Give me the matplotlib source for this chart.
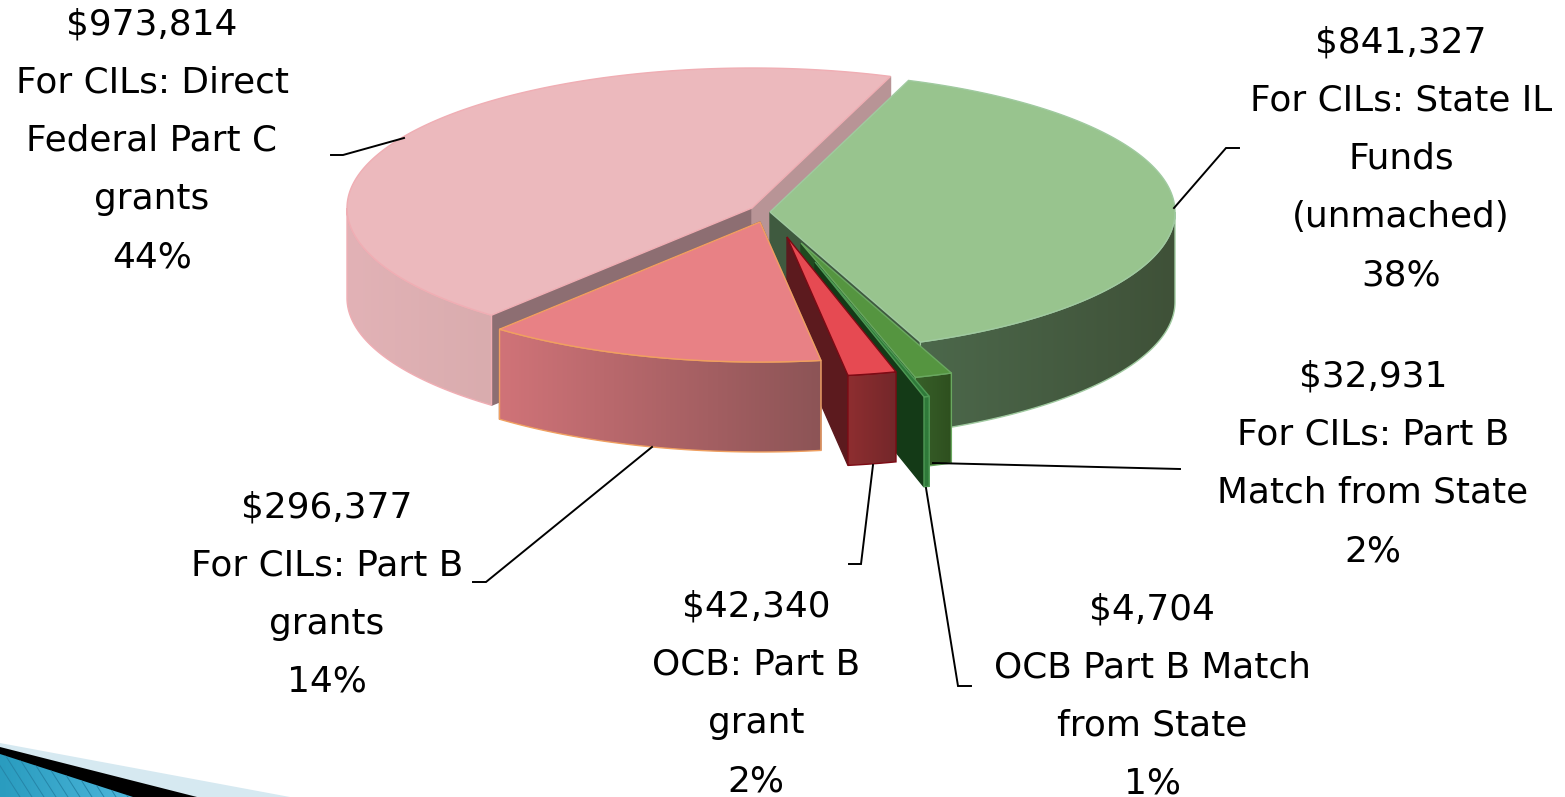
import numpy as np
import matplotlib
matplotlib.use("Agg")
import matplotlib.pyplot as plt
from matplotlib.colors import LinearSegmentedColormap
from matplotlib.patches import PathPatch, Polygon
from matplotlib.path import Path

# ---- data
names = ["For CILs: State IL\nFunds\n(unmached)", "For CILs: Part B\nMatch from State",
         "OCB Part B Match\nfrom State", "OCB: Part B\ngrant",
         "For CILs: Part B\ngrants", "For CILs: Direct\nFederal Part C\ngrants"]
amounts = [841327, 32931, 4704, 42340, 296377, 973814]
percents = ["38%", "2%", "1%", "2%", "14%", "44%"]

# ---- layout and style (pixel space of the reference)
W, H = 1565, 797
RX, RY, DEPTH = 405, 140, 90
START = 70.0
apex = [(770, 212), (801, 243), (815, 262), (787, 237), (760, 222), (752, 208)]
label_xy = [(1401, 285), (1373, 561), (1152, 794), (756, 791), (327, 692), (152, 267)]
leaders = [[(1239, 148), (1226, 148), (1174, 208)],
           [(1180, 469), (933, 463)],
           [(971, 686), (958, 686), (926, 488)],
           [(873, 465), (861, 564), (849, 564)],
           [(473, 582), (486, 582), (652, 447)],
           [(331, 155), (343, 155), (404, 138)]]
top_col = ["#98c48e", "#559540", "#2f7a3a", "#e64a52", "#e88185", "#ecb9bd"]
edge_col = ["#a0caa0", "#6aa860", "#4f9a55", "#7d0a14", "#f0a060", "#f0aeb4"]
side_stops = [["#4c684b", "#3f5138"], ["#38602a", "#2e4f1e"], ["#2f7a3a", "#2f7a3a"],
              ["#8e2e30", "#73272a"], ["#d07378", "#8c5456"], ["#e2b2b6", "#d9acae"]]
cut_col = ["#3f5a3f", "#1f4a1f", "#143a17", "#5c1a1e", "#8a5558", "#8d6e72"]

fig = plt.figure(figsize=(W / 100, H / 100), dpi=100)
ax = fig.add_axes([0, 0, 1, 1])


def rim(c, t1, t2, n=240):
    t = np.radians(np.linspace(t1, t2, n))
    return np.column_stack([c[0] + RX * np.cos(t), c[1] - RY * np.sin(t)])


def down(pts):
    return pts + np.array([0, DEPTH])


def gradient(poly, colors, z, edge):
    cmap = LinearSegmentedColormap.from_list("g", colors)
    x0, x1 = poly[:, 0].min(), poly[:, 0].max()
    y0, y1 = poly[:, 1].min(), poly[:, 1].max()
    im = ax.imshow(np.linspace(0, 1, 256)[None, :], cmap=cmap, extent=[x0, x1, y1, y0],
                   aspect="auto", zorder=z, interpolation="bilinear")
    im.set_clip_path(PathPatch(Path(poly, closed=False), transform=ax.transData))
    ax.add_patch(Polygon(poly, closed=True, fill=False, edgecolor=edge, lw=1.0, zorder=z + 0.1))


def flat(poly, color, z, edge=None, lw=1.0):
    ax.add_patch(Polygon(poly, closed=True, facecolor=color, edgecolor=edge or color, lw=lw, zorder=z))


# ---- wedge angles come from the values
sweep = 360.0 * np.array(amounts) / np.sum(amounts)
ends = START - np.cumsum(sweep)
starts = ends + sweep

# painting order: back to front
order = [5, 0, 1, 2, 3, 4]
z = 2
for i in order:
    c = np.array(apex[i], float)
    t1, t2 = starts[i], ends[i]
    arc = rim(c, t1, t2)
    # cut faces
    for t in (t1, t2):
        p = rim(c, t, t, 2)[0]
        face = np.array([c, p, p + [0, DEPTH], c + [0, DEPTH]])
        col = cut_col[i]
        if i == 5 and t == t2:
            col = "#b89496"
        if i in (5, 4) or t == t2:
            flat(face, col, z)
            z += 1
    # outer side: part of the rim facing the viewer
    lo, hi = max(t2, -180), min(t1, 0)
    if hi > lo:
        front = rim(c, hi, lo)
        poly = np.vstack([front, down(front)[::-1]])
        gradient(poly, side_stops[i], z, edge_col[i])
        z += 1
    # top
    flat(np.vstack([c, arc]), top_col[i], z, edge_col[i])
    z += 1

# ---- leader lines
for pts in leaders:
    xs, ys = zip(*pts)
    ax.plot(xs, ys, color="black", lw=1.4, zorder=60, solid_joinstyle="miter")

# ---- labels
for n, a, p, (x, y) in zip(names, amounts, percents, label_xy):
    ax.text(x, y, f"${a:,}\n{n}\n{p}", ha="center", va="baseline", multialignment="center",
            fontsize=25.8, family="DejaVu Sans", color="black", linespacing=1.898, zorder=70)

# ---- slide theme decoration at the lower left
flat(np.array([(0, 743), (290, 797), (0, 797)]), "#d6e9f1", 80, lw=0)
flat(np.array([(0, 747), (197, 797), (0, 797)]), "#000000", 81, lw=0)
blue = np.array([(0, 754), (133, 797), (0, 797)])
cm = LinearSegmentedColormap.from_list("b", ["#2a9cbf", "#4cb6da"])
im = ax.imshow(np.linspace(0, 1, 64)[None, :], cmap=cm, extent=[0, 133, 797, 754], aspect="auto", zorder=82)
im.set_clip_path(PathPatch(Path(blue, closed=False), transform=ax.transData))
for x in range(-10, 140, 12):
    ln, = ax.plot([x, x + 30], [750, 797], color="#2585a8", lw=0.7, zorder=83)
    ln.set_clip_path(PathPatch(Path(blue, closed=False), transform=ax.transData))

ax.set_xlim(0, W)
ax.set_ylim(H, 0)
ax.axis("off")
fig.savefig("out.png", dpi=100, facecolor="white")
